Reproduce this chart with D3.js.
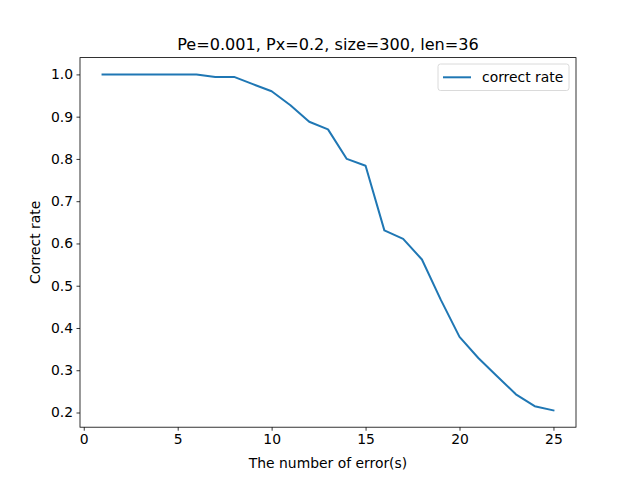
<!DOCTYPE html>
<html>
<head>
<meta charset="utf-8">
<script src="https://cdn.jsdelivr.net/npm/d3@7"></script>
<style>
  body { margin: 0; background: #fff; }
  text { font-family: "DejaVu Sans", sans-serif; }
</style>
</head>
<body>
<div id="plot"></div>
<script>
// data
const errors = [1, 2, 3, 4, 5, 6, 7, 8, 9, 10, 11, 12, 13, 14, 15, 16, 17, 18, 19, 20, 21, 22, 23, 24, 25];
const correctRate = [1.0, 1.0, 1.0, 1.0, 1.0, 1.0, 0.994, 0.994, 0.977, 0.960, 0.927, 0.888, 0.870, 0.800, 0.784,
    0.631, 0.611, 0.562, 0.467, 0.379, 0.329, 0.286, 0.243, 0.215, 0.205];
const xTicks = [0, 5, 10, 15, 20, 25];
const yTicks = [0.2, 0.3, 0.4, 0.5, 0.6, 0.7, 0.8, 0.9, 1.0];
const title = "Pe=0.001, Px=0.2, size=300, len=36";
const seriesName = "correct rate";

const svgWidth = 640, svgHeight = 480;
const margin = { top: 57.6, right: 64, bottom: 52.8, left: 80 };
const width = svgWidth - margin.left - margin.right;
const height = svgHeight - margin.top - margin.bottom;

const svg = d3.select('#plot')
    .append('svg')
    .attr("width", svgWidth)
    .attr("height", svgHeight);

const g = svg.append("g")
    .attr("transform", "translate(" + margin.left + "," + margin.top + ")");

// matplotlib style 5% margins
const xMin = d3.min(errors), xMax = d3.max(errors);
const yMin = d3.min(correctRate), yMax = d3.max(correctRate);
const xPad = (xMax - xMin) * 0.05, yPad = (yMax - yMin) * 0.05;

const x = d3.scaleLinear()
    .domain([xMin - xPad, xMax + xPad])
    .range([0, width]);
const y = d3.scaleLinear()
    .domain([yMin - yPad, yMax + yPad])
    .range([height, 0]);

// axes
const xAxis = g.append("g")
    .attr("transform", "translate(0," + height + ")")
    .call(d3.axisBottom(x).tickValues(xTicks).tickSize(3.5).tickPadding(3.5).tickFormat(d3.format("d")));
const yAxis = g.append("g")
    .call(d3.axisLeft(y).tickValues(yTicks).tickSize(3.5).tickPadding(3.5).tickFormat(d3.format(".1f")));

[xAxis, yAxis].forEach(function(a) {
    a.select(".domain").remove();
    a.selectAll("line").attr("stroke", "black").attr("stroke-width", 0.8);
    a.selectAll("text").attr("font-size", "13.9px").attr("fill", "black")
        .style("font-family", "DejaVu Sans");
});

// frame
g.append("rect")
    .attr("width", width)
    .attr("height", height)
    .attr("fill", "none")
    .attr("stroke", "black")
    .attr("stroke-width", 0.8);

// line
const line = d3.line()
    .x(function(d, i) { return x(errors[i]); })
    .y(function(d) { return y(d); });

g.append("path")
    .datum(correctRate)
    .attr("d", line)
    .attr("fill", "none")
    .attr("stroke", "#1f77b4")
    .attr("stroke-width", 2)
    .attr("stroke-linejoin", "round")
    .attr("stroke-linecap", "square");

// title and labels
svg.append("text")
    .attr("x", margin.left + width / 2)
    .attr("y", margin.top - 8)
    .attr("text-anchor", "middle")
    .attr("font-size", "16.1px")
    .text(title);

svg.append("text")
    .attr("x", margin.left + width / 2)
    .attr("y", 468)
    .attr("text-anchor", "middle")
    .attr("font-size", "13.9px")
    .text("The number of error(s)");

svg.append("text")
    .attr("transform", "translate(40," + (margin.top + height / 2) + ") rotate(-90)")
    .attr("text-anchor", "middle")
    .attr("font-size", "13.9px")
    .text("Correct rate");

// legend
const legend = svg.append("g").attr("transform", "translate(438,64)");
legend.append("rect")
    .attr("width", 131)
    .attr("height", 26.5)
    .attr("rx", 2.5)
    .attr("fill", "white")
    .attr("fill-opacity", 0.8)
    .attr("stroke", "#d0d0d0")
    .attr("stroke-width", 0.8);
legend.append("line")
    .attr("x1", 5).attr("x2", 33)
    .attr("y1", 13.3).attr("y2", 13.3)
    .attr("stroke", "#1f77b4")
    .attr("stroke-width", 2);
legend.append("text")
    .attr("x", 44)
    .attr("y", 18)
    .attr("font-size", "13.9px")
    .text(seriesName);
</script>
</body>
</html>
